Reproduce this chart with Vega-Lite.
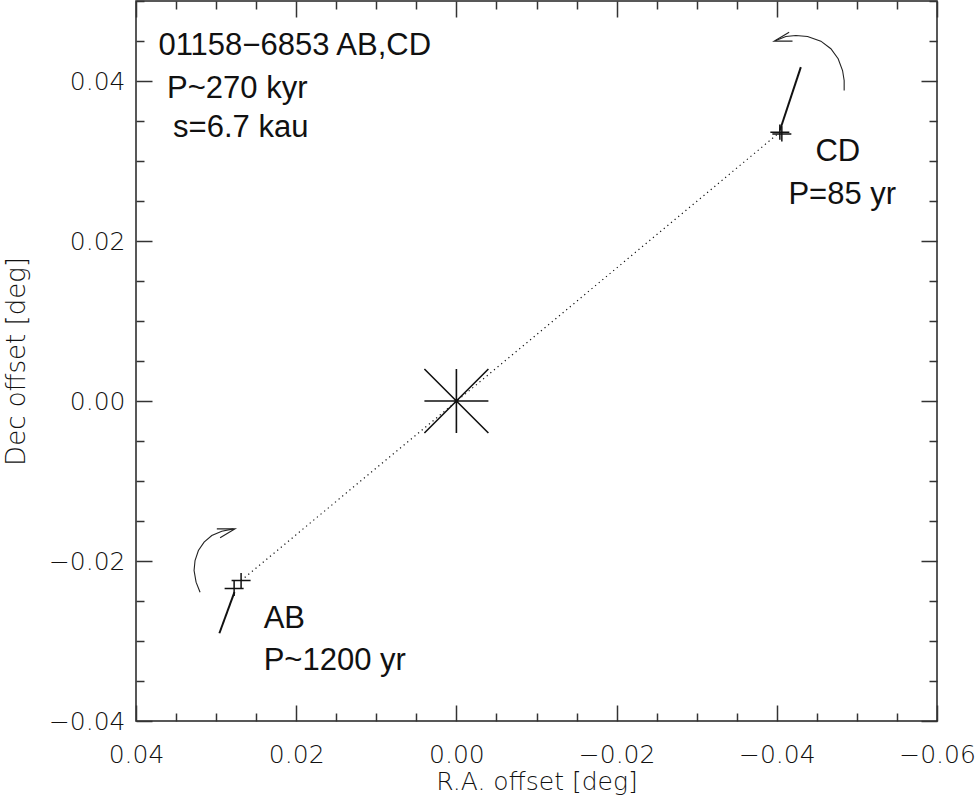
{
  "$schema": "https://vega.github.io/schema/vega-lite/v6.json",
  "width": 801,
  "height": 720,
  "autosize": {"type": "none"},
  "padding": {"left": 136, "top": 1, "right": 39, "bottom": 80},
  "background": "white",
  "config": {
    "view": {"stroke": "#222", "strokeWidth": 1.5},
    "axis": {"grid": false, "domain": false, "labelOverlap": false, "labelFlush": false}
  },
  "datasets": {
    "paths": [
      {"id": "link", "kind": "dotted", "i": 0, "x": 0.02688, "y": -0.02244},
      {"id": "link", "kind": "dotted", "i": 1, "x": -0.04038, "y": 0.0336},
      {"id": "cdpm", "kind": "motion", "i": 0, "x": -0.043, "y": 0.04173},
      {"id": "cdpm", "kind": "motion", "i": 1, "x": -0.04038, "y": 0.03381},
      {"id": "abpm", "kind": "motion", "i": 0, "x": 0.02959, "y": -0.02903},
      {"id": "abpm", "kind": "motion", "i": 1, "x": 0.02771, "y": -0.0239},
      {"id": "cdarc", "kind": "arc", "i": 0, "x": -0.04841, "y": 0.03881},
      {"id": "cdarc", "kind": "arc", "i": 1, "x": -0.04841, "y": 0.04006},
      {"id": "cdarc", "kind": "arc", "i": 2, "x": -0.04821, "y": 0.04131},
      {"id": "cdarc", "kind": "arc", "i": 3, "x": -0.04766, "y": 0.04278},
      {"id": "cdarc", "kind": "arc", "i": 4, "x": -0.04675, "y": 0.04403},
      {"id": "cdarc", "kind": "arc", "i": 5, "x": -0.0455, "y": 0.04498},
      {"id": "cdarc", "kind": "arc", "i": 6, "x": -0.04384, "y": 0.04556},
      {"id": "cdarc", "kind": "arc", "i": 7, "x": -0.04238, "y": 0.04569},
      {"id": "cdarc", "kind": "arc", "i": 8, "x": -0.04113, "y": 0.04556},
      {"id": "cdarc", "kind": "arc", "i": 9, "x": -0.03988, "y": 0.04506},
      {"id": "cdhead", "kind": "arc", "i": 0, "x": -0.04154, "y": 0.0461},
      {"id": "cdhead", "kind": "arc", "i": 1, "x": -0.03966, "y": 0.04498},
      {"id": "cdhead", "kind": "arc", "i": 2, "x": -0.04196, "y": 0.04498},
      {"id": "abarc", "kind": "arc", "i": 0, "x": 0.032, "y": -0.0239},
      {"id": "abarc", "kind": "arc", "i": 1, "x": 0.0325, "y": -0.02265},
      {"id": "abarc", "kind": "arc", "i": 2, "x": 0.03275, "y": -0.02119},
      {"id": "abarc", "kind": "arc", "i": 3, "x": 0.03263, "y": -0.01994},
      {"id": "abarc", "kind": "arc", "i": 4, "x": 0.03221, "y": -0.01869},
      {"id": "abarc", "kind": "arc", "i": 5, "x": 0.0315, "y": -0.01765},
      {"id": "abarc", "kind": "arc", "i": 6, "x": 0.03054, "y": -0.01681},
      {"id": "abarc", "kind": "arc", "i": 7, "x": 0.02929, "y": -0.01628},
      {"id": "abarc", "kind": "arc", "i": 8, "x": 0.02784, "y": -0.01598},
      {"id": "abhead", "kind": "arc", "i": 0, "x": 0.02991, "y": -0.01598},
      {"id": "abhead", "kind": "arc", "i": 1, "x": 0.02763, "y": -0.01598},
      {"id": "abhead", "kind": "arc", "i": 2, "x": 0.0295, "y": -0.0171}
    ],
    "stars": [
      {"name": "AB", "x": 0.02688, "y": -0.02244},
      {"name": "AB", "x": 0.02775, "y": -0.02344},
      {"name": "CD", "x": -0.04038, "y": 0.0336},
      {"name": "CD", "x": -0.04063, "y": 0.03338}
    ],
    "centre": [{"x": 0, "y": 0}],
    "labels": [
      {"text": "01158−6853 AB,CD", "x": 0.0372, "y": 0.04435},
      {"text": "P~270 kyr", "x": 0.03612, "y": 0.03898},
      {"text": "s=6.7 kau", "x": 0.03537, "y": 0.03408},
      {"text": "CD", "x": -0.04482, "y": 0.03107},
      {"text": "P=85 yr", "x": -0.04145, "y": 0.02579},
      {"text": "AB", "x": 0.02406, "y": -0.02727},
      {"text": "P~1200 yr", "x": 0.02406, "y": -0.03246}
    ]
  },
  "resolve": {"axis": {"x": "independent", "y": "independent"}},
  "layer": [
    {
      "data": {"name": "paths"},
      "transform": [{"filter": "datum.kind === 'dotted'"}],
      "mark": {"type": "line", "stroke": "#111", "strokeWidth": 1.2, "strokeDash": [1.2, 3.5]},
      "encoding": {
        "x": {
          "field": "x", "type": "quantitative",
          "scale": {"domain": [-0.06, 0.04], "reverse": true, "nice": false, "zero": false},
          "axis": {
            "orient": "bottom",
            "values": [0.04, 0.035, 0.03, 0.025, 0.02, 0.015, 0.01, 0.005, 0, -0.005, -0.01, -0.015, -0.02, -0.025, -0.03, -0.035, -0.04, -0.045, -0.05, -0.055, -0.06],
            "format": ".2f",
            "labelExpr": "abs(datum.value*50 - round(datum.value*50)) < 0.001 ? datum.label : ''",
            "tickSize": {"condition": {"test": "abs(datum.value*50 - round(datum.value*50)) < 0.001", "value": -16}, "value": -8},
            "tickColor": "#333", "tickWidth": 1.5,
            "labelPadding": 37,
            "labelFont": "DejaVu Sans", "labelFontWeight": 200, "labelFontSize": 25, "labelColor": "#111",
            "title": "R.A. offset [deg]",
            "titleFont": "DejaVu Sans", "titleFontWeight": 200, "titleFontSize": 25, "titleColor": "#111",
            "titlePadding": -6
          }
        },
        "y": {
          "field": "y", "type": "quantitative",
          "scale": {"domain": [-0.04, 0.05], "nice": false, "zero": false},
          "axis": {
            "orient": "left",
            "values": [-0.04, -0.035, -0.03, -0.025, -0.02, -0.015, -0.01, -0.005, 0, 0.005, 0.01, 0.015, 0.02, 0.025, 0.03, 0.035, 0.04, 0.045, 0.05],
            "format": ".2f",
            "labelExpr": "abs(datum.value*50 - round(datum.value*50)) < 0.001 && datum.value < 0.045 ? datum.label : ''",
            "tickSize": {"condition": {"test": "abs(datum.value*50 - round(datum.value*50)) < 0.001", "value": -16}, "value": -8},
            "tickColor": "#333", "tickWidth": 1.5,
            "labelPadding": 27,
            "labelFont": "DejaVu Sans", "labelFontWeight": 200, "labelFontSize": 25, "labelColor": "#111",
            "title": "Dec offset [deg]",
            "titleFont": "DejaVu Sans", "titleFontWeight": 200, "titleFontSize": 26, "titleColor": "#111",
            "titlePadding": 19
          }
        },
        "detail": {"field": "id"},
        "order": {"field": "i"}
      }
    },
    {
      "data": {"name": "paths"},
      "transform": [{"filter": "datum.kind === 'motion'"}],
      "mark": {"type": "line", "stroke": "#111", "strokeWidth": 2},
      "encoding": {
        "x": {
          "field": "x", "type": "quantitative",
          "axis": {
            "orient": "top",
            "values": [0.04, 0.035, 0.03, 0.025, 0.02, 0.015, 0.01, 0.005, 0, -0.005, -0.01, -0.015, -0.02, -0.025, -0.03, -0.035, -0.04, -0.045, -0.05, -0.055, -0.06],
            "labels": false, "title": null,
            "tickSize": {"condition": {"test": "abs(datum.value*50 - round(datum.value*50)) < 0.001", "value": -16}, "value": -8},
            "tickColor": "#333", "tickWidth": 1.5
          }
        },
        "y": {
          "field": "y", "type": "quantitative",
          "axis": {
            "orient": "right",
            "values": [-0.04, -0.035, -0.03, -0.025, -0.02, -0.015, -0.01, -0.005, 0, 0.005, 0.01, 0.015, 0.02, 0.025, 0.03, 0.035, 0.04, 0.045, 0.05],
            "labels": false, "title": null,
            "tickSize": {"condition": {"test": "abs(datum.value*50 - round(datum.value*50)) < 0.001", "value": -16}, "value": -8},
            "tickColor": "#333", "tickWidth": 1.5
          }
        },
        "detail": {"field": "id"},
        "order": {"field": "i"}
      }
    },
    {
      "data": {"name": "paths"},
      "transform": [{"filter": "datum.kind === 'arc'"}],
      "mark": {"type": "line", "stroke": "#222", "strokeWidth": 1.1},
      "encoding": {
        "x": {"field": "x", "type": "quantitative", "axis": null},
        "y": {"field": "y", "type": "quantitative", "axis": null},
        "detail": {"field": "id"},
        "order": {"field": "i"}
      }
    },
    {
      "data": {"name": "stars"},
      "mark": {"type": "point", "shape": "M-1,0L1,0M0,-0.8L0,0.8", "size": 361, "filled": false, "stroke": "#111", "strokeWidth": 1.5, "opacity": 1},
      "encoding": {
        "x": {"field": "x", "type": "quantitative", "axis": null},
        "y": {"field": "y", "type": "quantitative", "axis": null}
      }
    },
    {
      "data": {"name": "centre"},
      "mark": {"type": "point", "shape": "M0,-1L0,1M-1,0L1,0M-1,-1L1,1M-1,1L1,-1", "size": 4096, "filled": false, "stroke": "#111", "strokeWidth": 1.6, "opacity": 1},
      "encoding": {
        "x": {"field": "x", "type": "quantitative", "axis": null},
        "y": {"field": "y", "type": "quantitative", "axis": null}
      }
    },
    {
      "data": {"name": "labels"},
      "mark": {"type": "text", "align": "left", "baseline": "middle", "font": "Liberation Sans", "fontSize": 31, "color": "#111"},
      "encoding": {
        "x": {"field": "x", "type": "quantitative", "axis": null},
        "y": {"field": "y", "type": "quantitative", "axis": null},
        "text": {"field": "text"}
      }
    }
  ]
}
